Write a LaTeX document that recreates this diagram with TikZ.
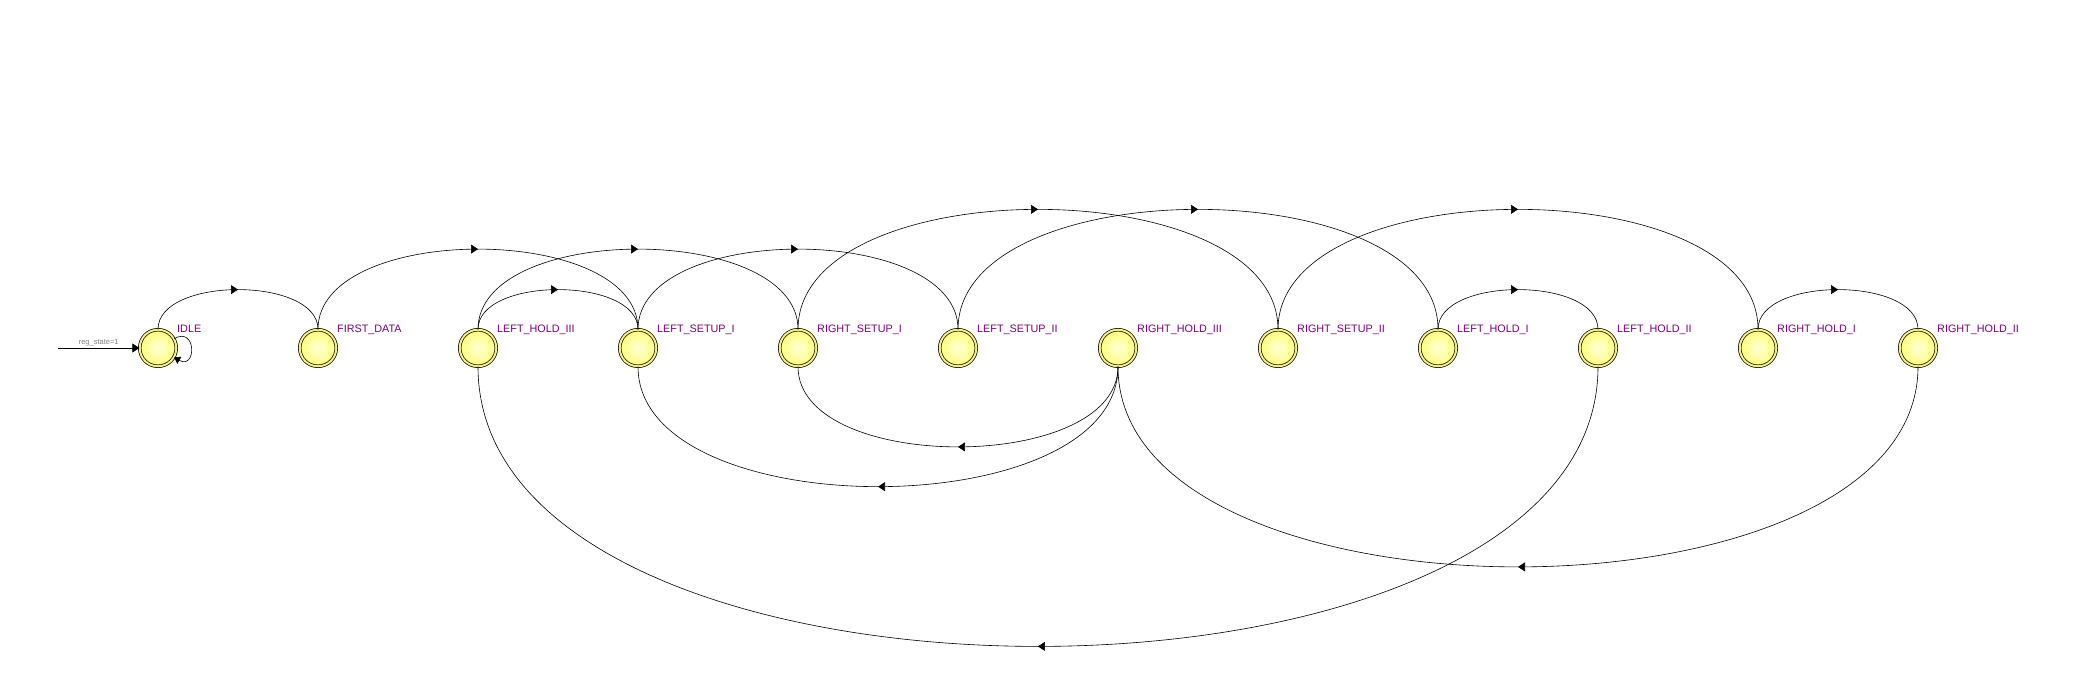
\documentclass[tikz,border=0pt]{standalone}
\usepackage{fontspec}
\setmainfont{Liberation Sans}
\usetikzlibrary{arrows.meta,decorations.markings}
\definecolor{lblpurple}{HTML}{800080}
\definecolor{stinner}{HTML}{FFFFD8}
\definecolor{stouter}{HTML}{FFFF78}
\definecolor{string}{HTML}{F6F080}
\tikzset{
  state/.style={circle, minimum size=36.6pt, inner sep=0pt, line width=0.7pt, draw=black,
    double=string, double distance=2pt, inner color=stinner, outer color=stouter},
  lbl/.style={text=lblpurple, font=\fontsize{10.8}{12}\selectfont, inner sep=0pt, anchor=base west},
  rstlbl/.style={text=gray, font=\fontsize{7.5}{8}\selectfont, inner sep=1pt},
  tr/.style={line width=0.6pt, postaction={decorate},
    decoration={markings, mark=at position 0.5 with {\arrow{Triangle[length=7pt,width=9pt]}}}},
}
\begin{document}
\begin{tikzpicture}[x=1pt,y=-1pt]
\useasboundingbox (0,0) rectangle (2090,682);
\foreach \n/\t [count=\i from 0] in {idle/IDLE, fdata/FIRST\_DATA, lh3/LEFT\_HOLD\_III,
    ls1/LEFT\_SETUP\_I, rs1/RIGHT\_SETUP\_I, ls2/LEFT\_SETUP\_II, rh3/RIGHT\_HOLD\_III,
    rs2/RIGHT\_SETUP\_II, lh1/LEFT\_HOLD\_I, lh2/LEFT\_HOLD\_II, rh1/RIGHT\_HOLD\_I,
    rh2/RIGHT\_HOLD\_II}{
  \node[state] (\n) at ({158+160*\i},348) {};
  \node[lbl] (\n-lbl) at ([xshift=19pt,yshift=-3pt]\n.north) {\t};
}
\coordinate (rst) at (58,348);
\draw[-{Triangle[length=7pt,width=9pt]}, line width=0.6pt] (rst) -- node[above, rstlbl, yshift=1pt] {reg\_state=1} (idle.west);
\draw[-{Triangle[length=6pt,width=8pt]}, line width=0.6pt] (idle.30) .. controls +(30:26pt) and +(-30:26pt) .. (idle.-30);
\draw[tr] (idle.north) .. controls +(0,-53) and +(0,-53) .. (fdata.north);
\draw[tr] (lh3.north) .. controls +(0,-53) and +(0,-53) .. (ls1.north);
\draw[tr] (lh1.north) .. controls +(0,-53) and +(0,-53) .. (lh2.north);
\draw[tr] (rh1.north) .. controls +(0,-53) and +(0,-53) .. (rh2.north);
\draw[tr] (fdata.north) .. controls +(0,-107) and +(0,-107) .. (ls1.north);
\draw[tr] (lh3.north) .. controls +(0,-107) and +(0,-107) .. (rs1.north);
\draw[tr] (ls1.north) .. controls +(0,-107) and +(0,-107) .. (ls2.north);
\draw[tr] (rs1.north) .. controls +(0,-160) and +(0,-160) .. (rs2.north);
\draw[tr] (ls2.north) .. controls +(0,-160) and +(0,-160) .. (lh1.north);
\draw[tr] (rs2.north) .. controls +(0,-160) and +(0,-160) .. (rh1.north);
\draw[tr] (rh3.south) .. controls +(0,107) and +(0,107) .. (rs1.south);
\draw[tr] (rh3.south) .. controls +(0,160) and +(0,160) .. (ls1.south);
\draw[tr] (rh2.south) .. controls +(0,267) and +(0,267) .. (rh3.south);
\draw[tr] (lh2.south) .. controls +(0,373) and +(0,373) .. (lh3.south);
\end{tikzpicture}
\end{document}
